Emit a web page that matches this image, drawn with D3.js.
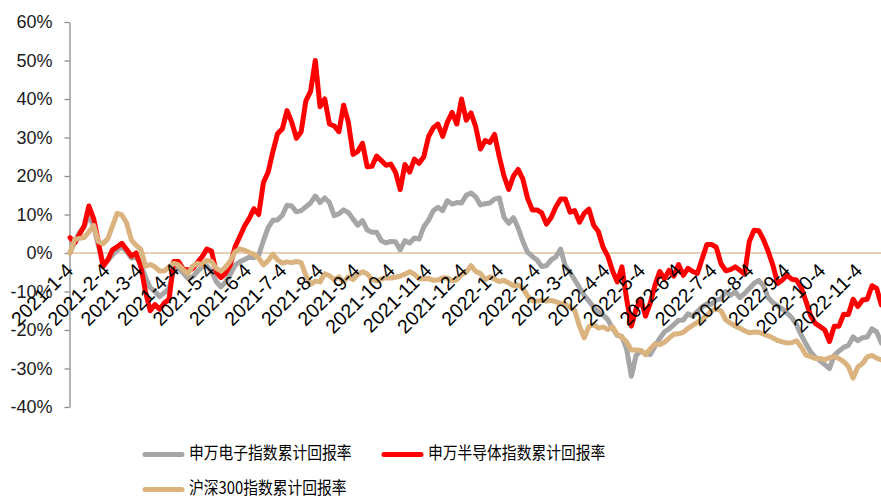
<!DOCTYPE html>
<html><head><meta charset="utf-8">
<script src="https://cdn.jsdelivr.net/npm/d3@7"></script>
<style>html,body{margin:0;padding:0;background:#fff;} svg{display:block;}</style>
</head><body>
<svg id="chart" width="881" height="500"></svg>
<script>
// calendar-day offsets from 2021-01-04 (sampling grid of the curves)
const dayOffsets = [0,4,8,12,16,20,24,28,32,36,40,44,48,52,56,60,64,68,72,76,80,84,88,92,96,100,104,108,112,116,120,124,128,132,136,140,144,148,152,156,160,164,168,172,176,180,184,188,192,196,200,204,208,212,216,220,224,228,232,236,240,244,248,252,256,260,264,268,272,276,280,284,288,292,296,300,304,308,312,316,320,324,328,332,336,340,344,348,352,356,360,364,368,372,376,380,384,388,392,396,400,404,408,412,416,420,424,428,432,436,440,444,448,452,456,460,464,468,472,476,480,484,488,492,496,500,504,508,512,516,520,524,528,532,536,540,544,548,552,556,560,564,568,572,576,580,584,588,592,596,600,604,608,612,616,620,624,628,632,636,640,644,648,652,656,660,664,668,672,676,680,684,688];

// 申万电子指数累计回报率 (%)
const electronics = [
0,3,5.3,6.8,9.8,7,2,-2.5,-2,-0.5,
0.8,1.5,0.4,-1.3,-1.1,-2.8,-6.3,-9,-10,-11.3,
-10.3,-9.2,-4.5,-4,-5.2,-6.6,-6.2,-4.8,-3.6,-3.3,
-4.8,-7.4,-8.8,-7.5,-5.5,-3.2,-2.3,-1.7,-1.1,-1.2,
-0.5,3.2,6.6,8.5,8.6,9.8,12.4,12.2,10.7,11,
12,13,14.8,13.1,14.3,13.1,9.7,10.2,11.2,10.5,
8.8,7.2,8.4,6,5.4,5.4,3.2,2.6,3,2.9,
0.8,3.2,2.6,3.9,3.6,6.8,8.5,11,11.9,11,
13.6,12.7,13.1,13,15,15.6,14.6,12.5,12.8,13,
14,14.3,9.3,7.7,9.2,6.5,3,0.2,-0.9,-1.8,
-3.5,-3.3,-1.8,-1,1,-3.4,-5,-7,-9,-11,
-12.5,-14.1,-15.3,-16.1,-17.3,-19.6,-21.4,-21.7,-25,-32,
-26.6,-25.4,-26.2,-26.4,-24.2,-22.2,-20.5,-19.7,-18.6,-17.5,
-17.4,-15.8,-16.4,-15.2,-14,-13.2,-13.3,-12.2,-11.9,-10,
-11,-10.1,-11.6,-10.5,-9.2,-7.9,-7.1,-8.5,-11.6,-12.9,
-13.7,-14.5,-15.6,-16.8,-18.6,-21.3,-23.6,-25.7,-27.1,-28,
-29,-30,-26.6,-25.5,-24.5,-24,-21.8,-22.8,-22,-21.8,
-19.7,-20.5,-23.4];

// 申万半导体指数累计回报率 (%)
const semiconductor = [
4,2.6,4.8,7,12.2,9,3,-3.5,-1.8,0.8,
1.6,2.5,0.9,-0.8,0,-3.5,-10,-15,-13.4,-14.6,
-13,-12,-2.2,-2.2,-4.2,-4.4,-4.1,-2.5,-1,1,
0.5,-5,-6.4,-5.2,-3,1.6,4.3,7,9,11.5,
10,18.3,21,26.3,31,32.2,37,34,29.8,31.5,
39.5,42,50,38,40,33.5,33,31.5,38.4,34,
25.6,26.4,28.5,22.4,22.5,25.2,24,22.8,23.1,21,
16.5,23,21,24.4,23.3,25,30.2,32.5,33.5,30.3,
34,36.5,33.5,40,34.5,36.4,32.8,27,29.2,28.7,
30.8,25,20,16.5,20,21.7,19.2,14.2,11.2,11.2,
10.4,7.5,9.2,12,14,14,10.6,11,8,10.3,
11.4,7.2,5.6,1.5,-0.8,-4.6,-7.5,-3.6,-12,-19,
-14.5,-12,-16.4,-13,-8.4,-4.8,-6.7,-4.5,-6,-3,
-5.8,-4,-4.8,-5.3,-1.5,2.2,2.2,1.5,-2.8,-4.6,
-4.3,-3.6,-4.5,-5.5,3,5.9,5.8,3.5,0.4,-3.2,
-7.9,-7,-5.8,-6.8,-7,-9,-12.5,-16.3,-18.3,-19.1,
-20,-23,-19,-19,-15.9,-16,-12,-13.9,-12.2,-12,
-8.5,-9.2,-13.5];

// 沪深300指数累计回报率 (%)
const hs300 = [
0,3.5,3.8,4,5.5,7.2,3,2.4,3.7,7,
10.3,9.9,7.8,3.4,2,1,-3.4,-3,-3.6,-4.7,
-4.6,-3.6,-2.7,-3.1,-4.3,-5.4,-3.4,-2.7,-3.1,-1.9,
-2.2,-4,-4.7,-3.6,-2,0.3,1.1,0.7,0.1,-0.3,
-1.3,-3.1,-2,-0.3,-1.8,-2.6,-2.3,-2.5,-2.2,-2.5,
-5.8,-8.2,-7.3,-7.5,-5.4,-5.9,-6.9,-6.2,-7.5,-6.2,
-6.9,-5.6,-4.9,-5.4,-6.9,-7.2,-6.8,-6.4,-6.5,-6.3,
-6,-5.5,-4.9,-5.5,-6.7,-6.7,-6.6,-7.1,-7,-6.4,
-6.5,-7.2,-7,-5.6,-5,-3.3,-4.8,-5.3,-6.9,-6.2,
-6.8,-7.4,-7.1,-7.8,-8.5,-8.3,-9.2,-11.2,-12.4,-12.5,
-12.3,-12.5,-12.3,-12.7,-13.1,-13.3,-14.1,-15,-19,-22,
-19.1,-18.6,-19.5,-19.2,-19.9,-19.2,-21.1,-21.9,-23.1,-25.2,
-25.2,-25.3,-26.4,-24.9,-23.6,-23.8,-23.2,-22.1,-21.1,-21,
-20.6,-19.6,-18.8,-18,-17.1,-16.3,-15,-14.5,-15,-17.4,
-18.2,-19,-19.5,-20.2,-20.7,-20.5,-20.6,-21.1,-21.5,-22.1,
-22.7,-23.1,-23.4,-23.3,-22.8,-24.4,-26.5,-26.9,-27.4,-27.4,
-27.7,-27.2,-26.9,-27.4,-28.2,-29.5,-32.5,-29.6,-28.7,-27,
-26.6,-27.3,-27.8];

const xTickLabels = ["2021-1-4","2021-2-4","2021-3-4","2021-4-4","2021-5-4","2021-6-4","2021-7-4","2021-8-4","2021-9-4","2021-10-4","2021-11-4","2021-12-4","2022-1-4","2022-2-4","2022-3-4","2022-4-4","2022-5-4","2022-6-4","2022-7-4","2022-8-4","2022-9-4","2022-10-4","2022-11-4"];
const yTicks = [-40,-30,-20,-10,0,10,20,30,40,50,60];
const seriesNames = ["申万电子指数累计回报率","申万半导体指数累计回报率","沪深300指数累计回报率"];
const seriesColors = ["#a6a6a6","#ff0000","#dab37f"];

const startDate = new Date(2021,0,4);
const dates = dayOffsets.map(d => d3.timeDay.offset(startDate, d));
const parseLabel = s => { const p = s.split("-").map(Number); return new Date(p[0], p[1]-1, p[2]); };
const tickDates = xTickLabels.map(parseLabel);

const svg = d3.select("#chart");
const x = d3.scaleTime().domain([startDate, d3.timeDay.offset(startDate, 688)]).range([70, 881.4]);
const y = d3.scaleLinear().domain([-40, 60]).range([407, 22]);

// zero line (x axis line)
svg.append("line")
  .attr("x1", x.range()[0]).attr("x2", 881)
  .attr("y1", y(0)).attr("y2", y(0))
  .attr("stroke", "#dcc3a2").attr("stroke-width", 1.5);

// y axis
const yAxis = svg.append("g")
  .attr("transform", "translate(69.5,0)")
  .call(d3.axisLeft(y).tickValues(yTicks).tickSize(5).tickSizeOuter(0).tickPadding(12).tickFormat(d => d + "%"));
yAxis.select(".domain").attr("stroke", "#8c8c8c").attr("stroke-width", 1.3);
yAxis.selectAll(".tick line").attr("stroke", "#8c8c8c").attr("stroke-width", 1.3);
yAxis.selectAll("text").attr("font-family", "'Liberation Sans', Arial, sans-serif").attr("font-size", 18).attr("fill", "#1a1a1a");

// series
const seriesData = [electronics, semiconductor, hs300];
const line = d3.line().x((d, i) => x(dates[i])).y(d => y(d)).curve(d3.curveLinear);
seriesData.forEach((vals, si) => {
  svg.append("path")
    .datum(vals)
    .attr("fill", "none")
    .attr("stroke", seriesColors[si])
    .attr("stroke-width", 5)
    .attr("stroke-linejoin", "round")
    .attr("stroke-linecap", "round")
    .attr("d", line);
});

// x axis labels (drawn on top)
const xAxis = svg.append("g")
  .attr("transform", `translate(0,${y(0)})`)
  .call(d3.axisBottom(x).tickValues(tickDates).tickSize(0).tickFormat((d, i) => xTickLabels[i]));
xAxis.select(".domain").remove();
xAxis.selectAll("text")
  .attr("font-family", "'Liberation Sans', Arial, sans-serif")
  .attr("font-size", 19.5)
  .attr("fill", "#000")
  .attr("text-anchor", "end")
  .attr("x", 0).attr("y", 0).attr("dy", "0.35em")
  .attr("transform", "translate(-1,14) rotate(-45)");

// legend
const legendItems = [
  {lx: 143, ly: 454.5},
  {lx: 382, ly: 454.5},
  {lx: 143, ly: 489.5}
];
legendItems.forEach((it, i) => {
  const g = svg.append("g").attr("transform", `translate(${it.lx},${it.ly})`);
  g.append("line").attr("x1", 2).attr("x2", 39).attr("y1", 0).attr("y2", 0)
    .attr("stroke", seriesColors[i]).attr("stroke-width", 5).attr("stroke-linecap", "round");
  g.append("text").attr("transform", "translate(46,-1.5) scale(0.88,1)").attr("dy", "0.36em")
    .attr("font-family", "'Noto Sans CJK SC', sans-serif").attr("font-size", 16.8)
    .attr("fill", "#000").text(seriesNames[i]);
});
</script>
</body></html>
